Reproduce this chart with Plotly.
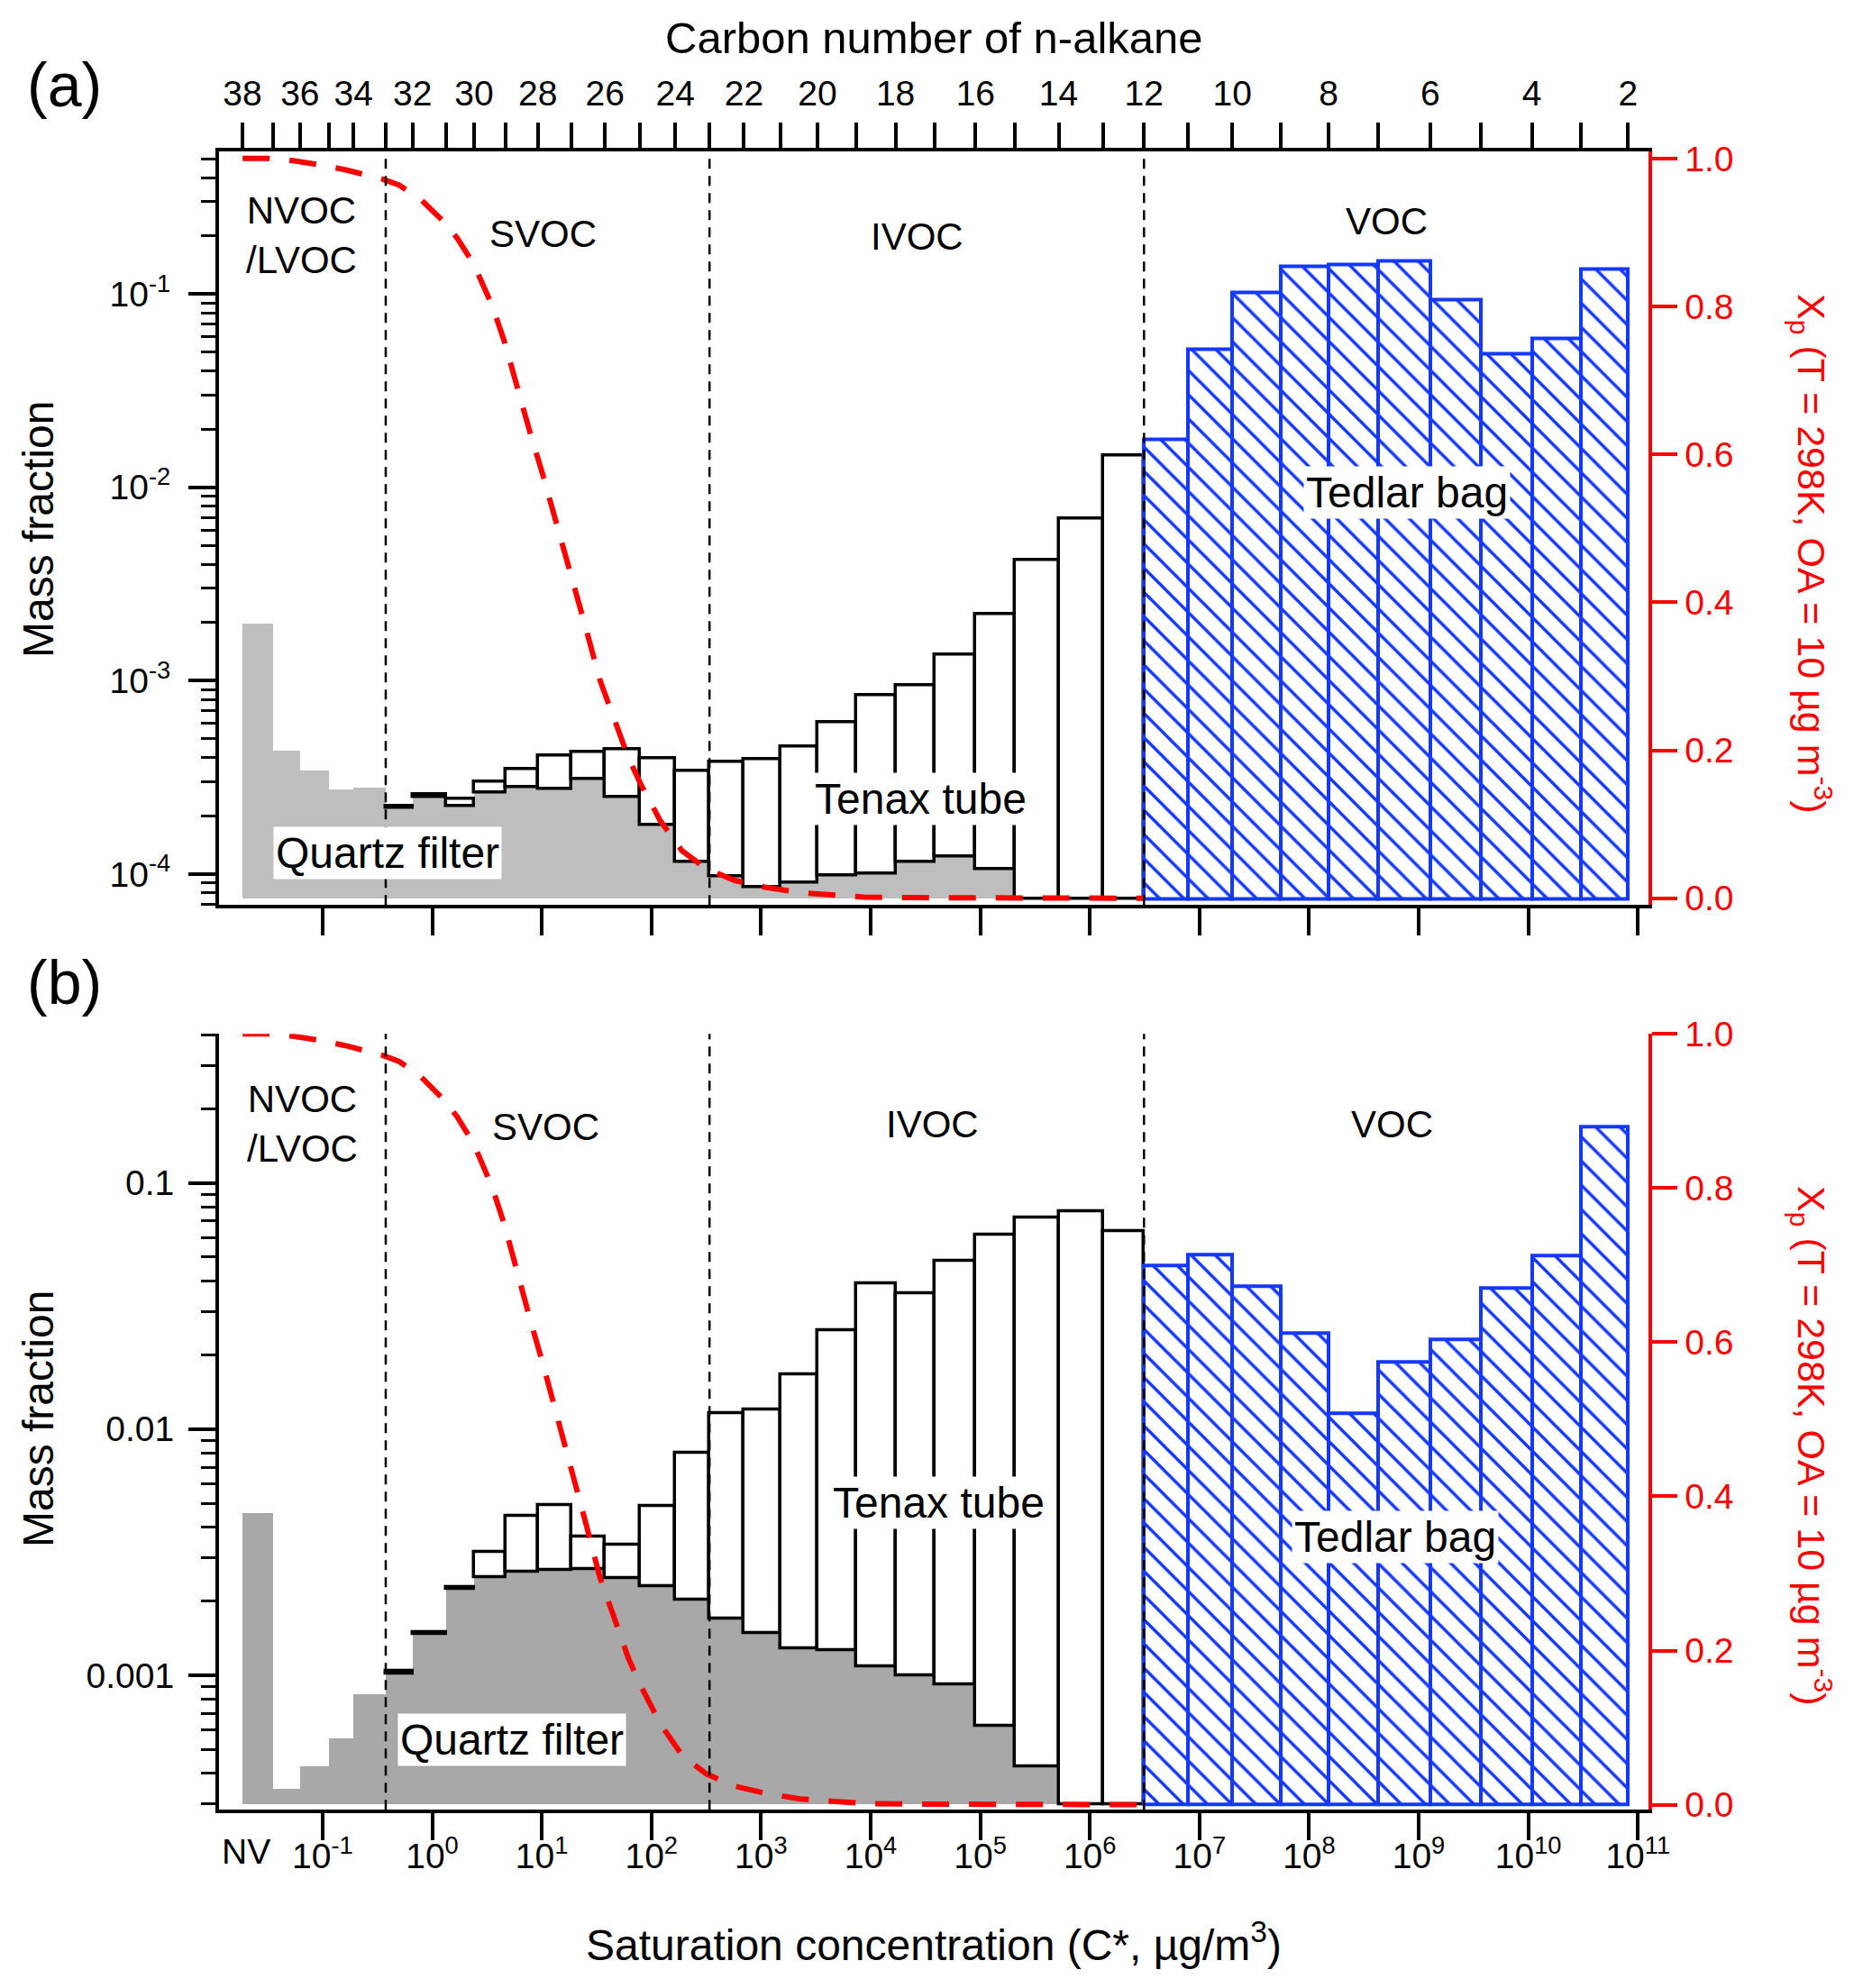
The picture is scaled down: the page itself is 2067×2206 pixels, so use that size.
import plotly.graph_objects as go

W, H = 2067, 2206

# ---------------- data ----------------
# bin edges in log10 C* (ug m-3), located at the carbon-number ticks C38 ... C2
edges_logc = [-1.732, -1.455, -1.206, -0.945, -0.718, -0.424, -0.180, 0.129, 0.382, 0.666,
              0.964, 1.267, 1.576, 1.895, 2.217, 2.530, 2.844, 3.177, 3.515, 3.869,
              4.227, 4.583, 4.957, 5.319, 5.715, 6.119, 6.494, 6.893, 7.300, 7.739,
              8.178, 8.633, 9.105, 9.570, 10.033, 10.481, 10.911]
carbon_numbers = list(range(38, 1, -1))

# panel (a)
quartz_a = [1.96e-3, 4.33e-4, 3.43e-4, 2.73e-4, 2.78e-4, 2.19e-4, 2.51e-4, 2.26e-4, 2.65e-4,
            2.83e-4, 2.75e-4, 3.11e-4, 2.49e-4, 1.79e-4, 1.16e-4, 9.7e-5, 8.6e-5, 9.0e-5,
            9.8e-5, 1.0e-4, 1.16e-4, 1.23e-4, 1.06e-4] + [None] * 13
tenax_top_a = [None] * 5 + [2.26e-4, 2.58e-4, 2.45e-4, 2.99e-4, 3.50e-4, 4.09e-4, 4.30e-4,
                            4.42e-4, 3.96e-4, 3.43e-4, 3.8e-4, 3.94e-4, 4.58e-4, 6.12e-4,
                            8.38e-4, 9.45e-4, 1.36e-3, 2.2e-3, 4.21e-3, 6.9e-3, 1.47e-2] + [None] * 10
tedlar_a = [None] * 26 + [1.77e-2, 5.2e-2, 0.1026, 0.1396, 0.142, 0.149, 0.0935, 0.049, 0.0589, 0.135]

# panel (b)
quartz_b = [4.55e-3, 3.45e-4, 4.25e-4, 5.52e-4, 8.36e-4, 1.02e-3, 1.47e-3, 2.25e-3, 2.51e-3,
            2.63e-3, 2.67e-3, 2.70e-3, 2.49e-3, 2.31e-3, 2.02e-3, 1.70e-3, 1.49e-3, 1.29e-3,
            1.27e-3, 1.09e-3, 1.0e-3, 9.2e-4, 6.25e-4, 4.25e-4] + [None] * 12
tenax_top_b = [None] * 5 + [1.04e-3, 1.50e-3, 2.29e-3, 3.16e-3, 4.44e-3, 4.93e-3, 3.66e-3,
                            3.40e-3, 4.86e-3, 8.0e-3, 1.16e-2, 1.20e-2, 1.67e-2, 2.52e-2,
                            3.89e-2, 3.55e-2, 4.80e-2, 6.17e-2, 7.23e-2, 7.66e-2, 6.38e-2] + [None] * 10
tedlar_b = [None] * 26 + [4.63e-2, 5.11e-2, 3.80e-2, 2.46e-2, 1.16e-2, 1.88e-2, 2.32e-2,
                          3.73e-2, 5.08e-2, 0.1686]

# partitioning fraction curve Xp (T = 298 K, OA = 10 ug m-3)
xp_logc = [-1.73, -1.50, -1.27, -1.00, -0.77, -0.45, -0.30, -0.10, 0.11, 0.23, 0.38, 0.55,
           0.66, 0.76, 0.89, 1.01, 1.14, 1.27, 1.40, 1.53, 1.66, 1.79, 1.90, 2.08, 2.28,
           2.50, 2.76, 3.05, 3.36, 3.60, 3.94, 4.30, 5.00, 6.494]
xp_val = [1.0, 1.0, 0.997, 0.991, 0.984, 0.972, 0.964, 0.944, 0.914, 0.892, 0.857, 0.800,
          0.752, 0.698, 0.631, 0.572, 0.505, 0.437, 0.366, 0.295, 0.240, 0.190, 0.155, 0.105,
          0.064, 0.040, 0.024, 0.0145, 0.0075, 0.0050, 0.0015, 0.0008, 0.0, 0.0]

xtick_pow = list(range(-1, 12))

# ---------------- helpers ----------------
centers = [(edges_logc[i] + edges_logc[i + 1]) / 2 for i in range(len(edges_logc) - 1)]
widths = [edges_logc[i + 1] - edges_logc[i] for i in range(len(edges_logc) - 1)]
even_edges = [e for e, c in zip(edges_logc, carbon_numbers) if c % 2 == 0]
even_labels = [str(c) for c in carbon_numbers if c % 2 == 0]
odd_edges = [e for e, c in zip(edges_logc, carbon_numbers) if c % 2 == 1]

FONT = "Liberation Sans, Arial, sans-serif"
BLUE = "#1438FF"
base_a = 7.48e-5
base_b = 2.985e-4


def px(x, y):
    return x / W, 1 - y / H


fig = go.Figure()


def add_panel(quartz, tenax_top, tedlar, base, gray, xa, ya, ya_r):
    qy = [None if q is None else q - base for q in quartz]
    fig.add_trace(go.Bar(x=centers, y=qy, width=widths, base=base, xaxis=xa, yaxis=ya,
                         marker=dict(color=gray, line=dict(width=0)), showlegend=False))
    t_base = [base if q is None else q for q in quartz]
    ty = [None if t is None else t - b for t, b in zip(tenax_top, t_base)]
    fig.add_trace(go.Bar(x=centers, y=ty, width=widths, base=t_base, xaxis=xa, yaxis=ya,
                         marker=dict(color="white", line=dict(color="black", width=3.5)),
                         showlegend=False))
    dy = [None if t is None else t - base for t in tedlar]
    fig.add_trace(go.Bar(x=centers, y=dy, width=widths, base=base, xaxis=xa, yaxis=ya,
                         marker=dict(color="white", line=dict(color=BLUE, width=4),
                                     pattern=dict(shape="\\", fgcolor=BLUE, bgcolor="white",
                                                  size=19, solidity=0.18, fillmode="replace")),
                         showlegend=False))
    fig.add_trace(go.Scatter(x=xp_logc, y=xp_val, xaxis=xa, yaxis=ya_r, mode="lines",
                             line=dict(color="#FF0000", width=6, dash="30px,22px"),
                             showlegend=False))


add_panel(quartz_a, tenax_top_a, tedlar_a, base_a, "#BEBEBE", "x", "y", "y2")
add_panel(quartz_b, tenax_top_b, tedlar_b, base_b, "#A8A8A8", "x2", "y3", "y4")
# invisible trace for the top (carbon number) axis
fig.add_trace(go.Scatter(x=[edges_logc[0]], y=[1e-3], xaxis="x3", yaxis="y", mode="markers",
                         marker=dict(opacity=0), showlegend=False, hoverinfo="skip"))

xdom = [243 / W, 1829.4 / W]
ydom_a = [1 - 1004.2 / H, 1 - 168.4 / H]
ydom_b = [1 - 2008.3 / H, 1 - 1147.2 / H]
xrange = [-1.945, 11.10]

tickfont = dict(family=FONT, size=39, color="black")
redfont = dict(family=FONT, size=39, color="#FF0000")
common_ax = dict(showgrid=False, zeroline=False, showline=True, linewidth=4, linecolor="black",
                 ticks="outside", ticklen=30, tickwidth=4, tickcolor="black", tickfont=tickfont,
                 automargin=False)


def minor_vals(lo, hi):
    vals = []
    for d in range(-6, 1):
        for m in range(2, 10):
            v = m * 10 ** d
            if lo <= v <= hi:
                vals.append(v)
    return vals


fig.update_layout(
    width=W, height=H, margin=dict(l=0, r=0, t=0, b=0, pad=0, autoexpand=False),
    paper_bgcolor="white", plot_bgcolor="rgba(0,0,0,0)", barmode="overlay", bargap=0,
    font=dict(family=FONT, color="black"), showlegend=False,
    xaxis=dict(domain=xdom, anchor="y", range=xrange, tickvals=xtick_pow,
               showticklabels=False, **common_ax),
    xaxis3=dict(overlaying="x", side="top", anchor="y", range=xrange, tickvals=even_edges,
                ticktext=even_labels, ticklabelstandoff=4,
                minor=dict(tickvals=odd_edges, ticks="outside", ticklen=28, tickwidth=4,
                           tickcolor="black"),
                **{**common_ax, "ticklen": 28}),
    yaxis=dict(domain=ydom_a, anchor="x", type="log", range=[-4.160, -0.264],
               tickvals=[1e-4, 1e-3, 1e-2, 1e-1],
               ticktext=["10<sup>-4</sup>", "10<sup>-3</sup>", "10<sup>-2</sup>", "10<sup>-1</sup>"],
               minor=dict(tickvals=minor_vals(10 ** -4.160, 10 ** -0.264), ticks="outside",
                          ticklen=16, tickwidth=3, tickcolor="black"),
               ticklabelstandoff=12, **common_ax),
    yaxis2=dict(overlaying="y", side="right", anchor="x", range=[-0.0091, 1.0091],
                tickvals=[0, 0.2, 0.4, 0.6, 0.8, 1.0],
                ticktext=["0.0", "0.2", "0.4", "0.6", "0.8", "1.0"],
                **{**common_ax, "linecolor": "#FF0000", "tickcolor": "#FF0000",
                   "tickfont": redfont, "ticklen": 28}),
    xaxis2=dict(domain=xdom, anchor="y3", range=xrange, tickvals=xtick_pow,
                ticktext=["10<sup>%d</sup>" % p for p in xtick_pow],
                ticklabelstandoff=-16, **common_ax),
    yaxis3=dict(domain=ydom_b, anchor="x2", type="log", range=[-3.546, -0.395],
                tickvals=[1e-3, 1e-2, 1e-1], ticktext=["0.001", "0.01", "0.1"],
                minor=dict(tickvals=minor_vals(10 ** -3.546, 10 ** -0.395), ticks="outside",
                           ticklen=16, tickwidth=3, tickcolor="black"),
                ticklabelstandoff=8, **common_ax),
    yaxis4=dict(overlaying="y3", side="right", anchor="x2", range=[-0.0067, 1.0],
                tickvals=[0, 0.2, 0.4, 0.6, 0.8, 1.0],
                ticktext=["0.0", "0.2", "0.4", "0.6", "0.8", "1.0"],
                **{**common_ax, "linecolor": "#FF0000", "tickcolor": "#FF0000",
                   "tickfont": redfont, "ticklen": 28}),
)

# volatility class boundaries (dashed lines at C33, C23, C12 edges)
for e in [edges_logc[5], edges_logc[15], edges_logc[26]]:
    for xr, yr in [("x", "y domain"), ("x2", "y3 domain")]:
        fig.add_shape(type="line", xref=xr, yref=yr, x0=e, x1=e, y0=0, y1=1,
                      line=dict(color="black", width=2.5, dash="11px,8px"))

anns = []


def ann(text, x, y, size, color="black", angle=0, bg=None, align="center", xanchor="center"):
    X, Y = px(x, y)
    d = dict(text=text, x=X, y=Y, xref="paper", yref="paper", showarrow=False,
             font=dict(family=FONT, size=size, color=color), textangle=angle,
             xanchor=xanchor, yanchor="middle", align=align)
    if bg:
        d.update(bgcolor=bg, borderpad=2)
    anns.append(d)


ann("(a)", 71, 94, 68)
ann("(b)", 71, 1090, 68)
ann("Carbon number of n-alkane", 1036, 42, 49)
ann("Mass fraction", 42, 588, 48, angle=-90)
ann("Mass fraction", 42, 1575, 48, angle=-90)
ann("X<sub>p</sub> (T = 298K, OA = 10 µg m<sup>-3</sup>)", 2010, 614, 43, color="#FF0000", angle=90)
ann("X<sub>p</sub> (T = 298K, OA = 10 µg m<sup>-3</sup>)", 2010, 1604, 43, color="#FF0000", angle=90)
ann("Saturation concentration (C*, µg/m<sup>3</sup>)", 1036, 2155, 48)
ann("NV", 273, 2054, 39)

# class labels
ann("NVOC<br>/LVOC", 334, 261, 42)
ann("SVOC", 602, 259, 42)
ann("IVOC", 1017, 262, 42)
ann("VOC", 1538, 246, 42)
ann("NVOC<br>/LVOC", 335, 1247, 42)
ann("SVOC", 605, 1250, 42)
ann("IVOC", 1034, 1247, 42)
ann("VOC", 1544, 1247, 42)

# sampler labels
ann("Quartz filter", 430, 946, 48, bg="white")
ann("Tenax tube", 1021, 887, 48, bg="white")
ann("Tedlar bag", 1561, 546, 48, bg="white")
ann("Quartz filter", 568, 1930, 48, bg="white")
ann("Tenax tube", 1041, 1667, 48, bg="white")
ann("Tedlar bag", 1548, 1705, 48, bg="white")

fig.update_layout(annotations=anns)

fig.write_html("out.html", config={"displayModeBar": False},
               post_script="document.body.style.margin='0';")
